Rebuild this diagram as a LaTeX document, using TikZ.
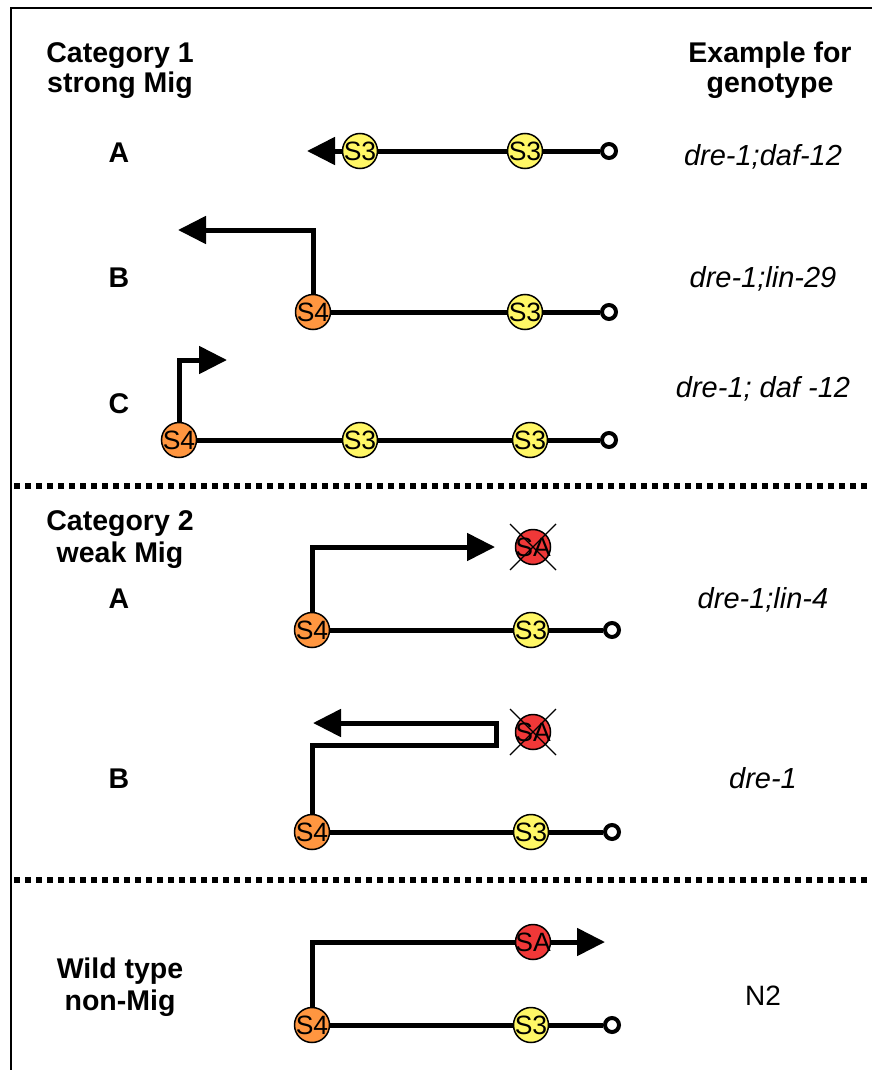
\documentclass[tikz,border=0pt]{standalone}
\usepackage{fontspec}
\setmainfont{Liberation Sans}
\usetikzlibrary{arrows.meta}
\newcommand\stglabel[1]{\makebox[0pt]{#1}}
\tikzset{
  big/.style={font=\fontsize{28.5}{30}\selectfont\bfseries, anchor=base, inner sep=0},
  geno/.style={font=\fontsize{29}{30}\selectfont\itshape, anchor=base, inner sep=0},
  stage/.style={circle, draw=black, line width=1.5, minimum size=35, inner sep=0, font=\fontsize{26.5}{27}\selectfont},
  sthree/.style={stage, fill=yellow!60!white},
  sfour/.style={stage, fill={rgb,255:red,255;green,150;blue,64}},
  sa/.style={stage, fill={rgb,255:red,240;green,56;blue,56}},
  tail/.style={circle, draw=black, fill=white, line width=4, minimum size=14, inner sep=0},
  wire/.style={line width=5, draw=black, line join=miter},
  tip/.style={-{Triangle[length=28,width=27]}},
  sep/.style={line width=6, dash pattern=on 6 off 5},
  strike/.style={line width=1.3, draw=black}
}
\begin{document}
\begin{tikzpicture}[x=1pt,y=-1pt]
\useasboundingbox (0,0) rectangle (872,1070);
\fill[white] (0,0) rectangle (872,1070);
\draw[line width=2] (11,1072) -- (11,8) -- (874,8);

% headers
\node[big] (h1a) at (120,63) {Category 1};
\node[big] (h1b) at (120,93) {strong Mig};
\node[big] (h2a) at (770,63) {Example for};
\node[big] (h2b) at (770,93) {genotype};

% ---- Category 1 A
\node[big] (la) at (119,162) {A};
\node[sthree] (a1) at (360,151) {\stglabel{S3}};
\node[sthree] (a2) at (525,151) {\stglabel{S3}};
\node[tail] (aE) at (609,151) {};
\coordinate (aT) at (307,151);
\draw[wire] (aE) -- (a2) (a2) -- (a1);
\draw[wire,tip] (a1) -- (aT);
\node[geno] (ga) at (763,165) {dre-1;daf-12};

% ---- Category 1 B
\node[big] (lb) at (119,287) {B};
\node[sfour] (b1) at (313,312) {\stglabel{S4}};
\node[sthree] (b2) at (525,312) {\stglabel{S3}};
\node[tail] (bE) at (609,312) {};
\coordinate (bT) at (178,230);
\draw[wire] (bE) -- (b2) (b2) -- (b1);
\draw[wire,tip] (b1.north) |- (bT);
\node[geno] (gb) at (763,287) {dre-1;lin-29};

% ---- Category 1 C
\node[big] (lc) at (119,413) {C};
\node[sfour] (c1) at (179,440) {\stglabel{S4}};
\node[sthree] (c2) at (360,440) {\stglabel{S3}};
\node[sthree] (c3) at (530,440) {\stglabel{S3}};
\node[tail] (cE) at (609,440) {};
\coordinate (cT) at (227,360);
\draw[wire] (cE) -- (c3) (c3) -- (c2) (c2) -- (c1);
\draw[wire,tip] (c1.north) |- (cT);
\node[geno] (gc) at (763,397) {dre-1; daf -12};

\draw[sep] (14,486) -- (872,486);

% ---- Category 2
\node[big] (h3a) at (120,530) {Category 2};
\node[big] (h3b) at (120,562) {weak Mig};

% A
\node[big] (ld) at (119,608) {A};
\node[sfour] (d1) at (312,630) {\stglabel{S4}};
\node[sthree] (d2) at (531,630) {\stglabel{S3}};
\node[tail] (dE) at (612,630) {};
\node[sa] (dS) at (533,547) {\stglabel{SA}};
\draw[strike] ([shift={(-23,-23)}]dS.center) -- ([shift={(23,23)}]dS.center);
\draw[strike] ([shift={(23,-23)}]dS.center) -- ([shift={(-23,23)}]dS.center);
\coordinate (dT) at (495,547);
\draw[wire] (dE) -- (d2) (d2) -- (d1);
\draw[wire,tip] (d1.north) |- (dT);
\node[geno] (gd) at (763,608) {dre-1;lin-4};

% B
\node[big] (le) at (119,788) {B};
\node[sfour] (e1) at (312,832) {\stglabel{S4}};
\node[sthree] (e2) at (531,832) {\stglabel{S3}};
\node[tail] (eE) at (612,832) {};
\node[sa] (eS) at (533,732) {\stglabel{SA}};
\draw[strike] ([shift={(-23,-23)}]eS.center) -- ([shift={(23,23)}]eS.center);
\draw[strike] ([shift={(23,-23)}]eS.center) -- ([shift={(-23,23)}]eS.center);
\coordinate (eK1) at (496,745);
\coordinate (eK2) at (496,723);
\coordinate (eT) at (313,723);
\draw[wire] (eE) -- (e2) (e2) -- (e1);
\draw[wire,tip] (e1.north) |- (eK1) -- (eK2) -- (eT);
\node[geno] (ge) at (763,788) {dre-1};

\draw[sep] (14,880) -- (872,880);

% ---- Wild type
\node[big] (h4a) at (120,978) {Wild type};
\node[big] (h4b) at (120,1010) {non-Mig};
\node[sfour] (f1) at (312,1025) {\stglabel{S4}};
\node[sthree] (f2) at (531,1025) {\stglabel{S3}};
\node[tail] (fE) at (612,1025) {};
\node[sa] (fS) at (533,942) {\stglabel{SA}};
\coordinate (fT) at (605,942);
\draw[wire] (fE) -- (f2) (f2) -- (f1);
\draw[wire] (f1.north) |- (fS.west);
\draw[wire,tip] (fS.east) -- (fT);
\node[font=\fontsize{28}{30}\selectfont, anchor=base, inner sep=0] (gf) at (763,1005) {N2};
\end{tikzpicture}
\end{document}
